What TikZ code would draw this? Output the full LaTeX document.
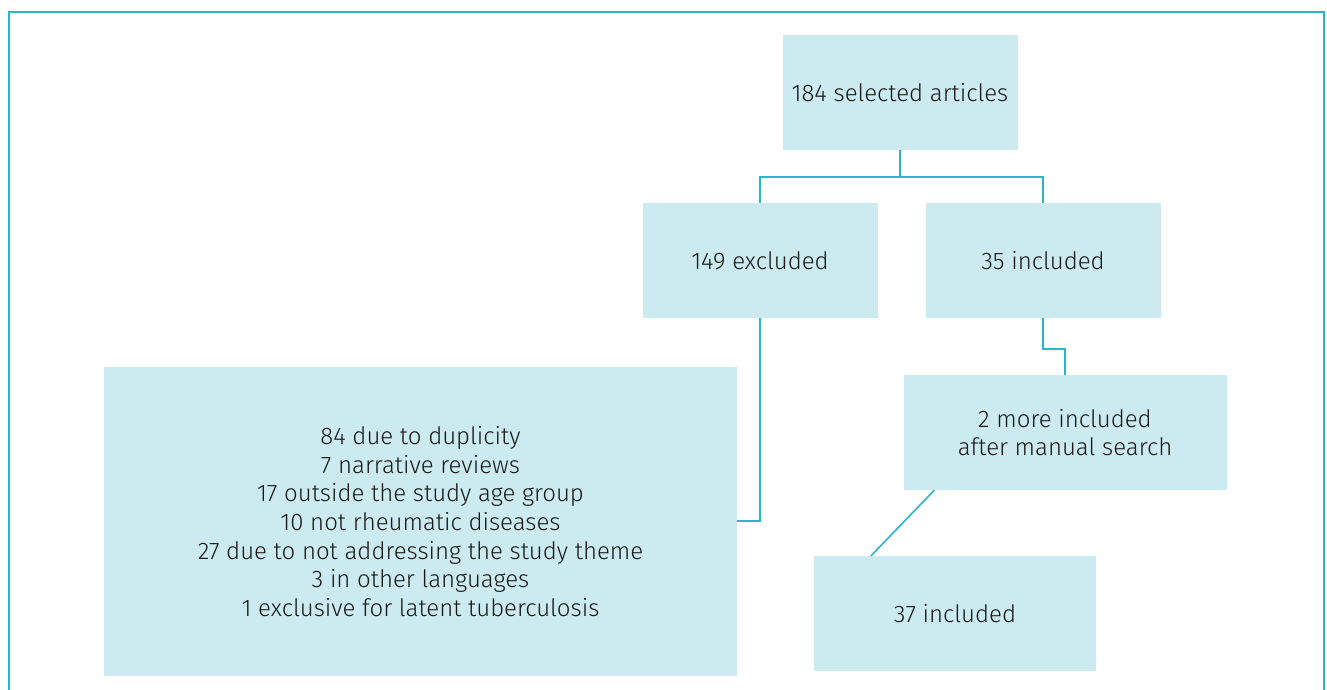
\documentclass[tikz,border=0pt]{standalone}
\usepackage{fontspec}
\setmainfont{Fira Sans Light}
\definecolor{frame}{HTML}{2BB5C8}
\definecolor{boxfill}{HTML}{CCEBF0}
\definecolor{txt}{HTML}{1A1A1A}
\begin{document}
\begin{tikzpicture}[x=1pt,y=-1pt,
  box/.style={fill=boxfill,draw=none,inner sep=0pt,align=center,text=txt,
    font=\fontsize{24}{28.7}\selectfont},
  link/.style={draw=frame,line width=2pt}]
\useasboundingbox (0,0) rectangle (1327,690);
\begin{scope}
\clip (0,0) rectangle (1327,690);
\draw[frame,line width=2pt] (9,720) -- (9,12) -- (1324,12) -- (1324,720);
\end{scope}
\node[box,minimum width=235pt,minimum height=115pt] (top) at (900,92.5) {184 selected articles};
\node[box,minimum width=235pt,minimum height=115pt] (exc) at (760,260.5) {149 excluded};
\node[box,minimum width=235pt,minimum height=115pt] (inc) at (1043,260.5) {35 included};
\node[box,minimum width=633pt,minimum height=309pt] (big) at (420.5,521.5) {84 due to duplicity\\7 narrative reviews\\17 outside the study age group\\10 not rheumatic diseases\\27 due to not addressing the study theme\\3 in other languages\\1 exclusive for latent tuberculosis};
\node[box,minimum width=323pt,minimum height=115pt] (more) at (1065,432.5) {2 more included\\after manual search};
\node[box,minimum width=282pt,minimum height=115pt] (fin) at (955,613.5) {37 included};
\coordinate (j1) at (900,177);
\draw[link] (top.south) -- (j1) -| (exc.north);
\draw[link] (j1) -| (inc.north);
\draw[link] (exc.south) |- (big.east |- 0,521);
\draw[link] (inc.south) -- ++(0,31) -| (more.north);
\draw[link,line width=1.6pt] (more.south west) ++(31,0) coordinate (d1) -- (fin.north west -| 871,0) ;
\end{tikzpicture}
\end{document}
